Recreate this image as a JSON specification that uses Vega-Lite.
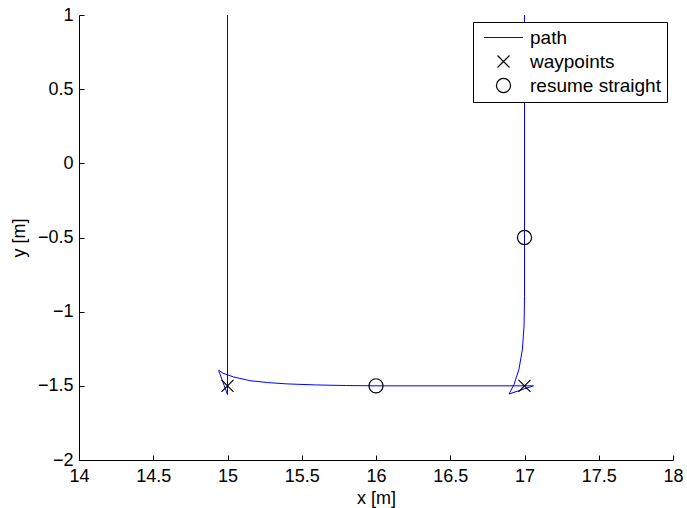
{
  "$schema": "https://vega.github.io/schema/vega-lite/v6.json",
  "autosize": {"type": "none"},
  "width": 594,
  "height": 445,
  "padding": {"left": 79, "top": 15, "right": 14, "bottom": 48},
  "background": "white",
  "config": {
    "view": {"stroke": null},
    "font": "Liberation Sans",
    "axis": {
      "domainColor": "black",
      "tickColor": "black",
      "labelColor": "black",
      "titleColor": "black",
      "labelFont": "Liberation Sans",
      "titleFont": "Liberation Sans",
      "labelFontSize": 18,
      "titleFontSize": 18,
      "titleFontWeight": "normal",
      "tickSize": -5,
      "grid": false,
      "domainWidth": 1,
      "tickWidth": 1
    },
    "legend": {
      "labelFont": "Liberation Sans",
      "labelFontSize": 19,
      "labelColor": "black"
    }
  },
  "datasets": {
    "path": [
      {"o": 1, "x": 15.0, "y": 1.0},
      {"o": 2, "x": 15.0, "y": -1.56},
      {"o": 3, "x": 14.94, "y": -1.395},
      {"o": 4, "x": 14.97, "y": -1.415},
      {"o": 5, "x": 15.04, "y": -1.44},
      {"o": 6, "x": 15.15, "y": -1.465},
      {"o": 7, "x": 15.27, "y": -1.478},
      {"o": 8, "x": 15.4, "y": -1.487},
      {"o": 9, "x": 15.6, "y": -1.494},
      {"o": 10, "x": 15.8, "y": -1.498},
      {"o": 11, "x": 16.0, "y": -1.5},
      {"o": 12, "x": 16.9, "y": -1.5},
      {"o": 13, "x": 17.06, "y": -1.5},
      {"o": 14, "x": 16.896, "y": -1.555},
      {"o": 15, "x": 16.93, "y": -1.49},
      {"o": 16, "x": 16.963, "y": -1.387},
      {"o": 17, "x": 16.986, "y": -1.253},
      {"o": 18, "x": 16.997, "y": -1.096},
      {"o": 19, "x": 17.0, "y": -0.9},
      {"o": 20, "x": 17.0, "y": 1.0}
    ],
    "markers": [
      {"series": "waypoints", "x": 15, "y": -1.5},
      {"series": "waypoints", "x": 17, "y": -1.5},
      {"series": "resume straight", "x": 16, "y": -1.5},
      {"series": "resume straight", "x": 17, "y": -0.5}
    ]
  },
  "layer": [
    {
      "data": {"name": "path"},
      "mark": {"type": "line", "color": "#0000ff", "strokeWidth": 1, "clip": true},
      "encoding": {
        "x": {
          "field": "x", "type": "quantitative",
          "scale": {"domain": [14, 18], "nice": false, "zero": false},
          "axis": {"title": "x [m]", "values": [14, 14.5, 15, 15.5, 16, 16.5, 17, 17.5, 18], "format": ".1~f", "labelPadding": 12, "titlePadding": 4, "labelFlush": false}
        },
        "y": {
          "field": "y", "type": "quantitative",
          "scale": {"domain": [-2, 1], "nice": false, "zero": false},
          "axis": {"title": "y [m]", "values": [-2, -1.5, -1, -0.5, 0, 0.5, 1], "format": ".1~f", "labelPadding": 11, "titlePadding": 9, "labelFlush": false}
        },
        "order": {"field": "o", "type": "quantitative"}
      }
    },
    {
      "data": {"name": "markers"},
      "mark": {"type": "point", "filled": false, "size": 200, "strokeWidth": 1.2, "opacity": 1},
      "encoding": {
        "x": {"field": "x", "type": "quantitative"},
        "y": {"field": "y", "type": "quantitative"},
        "color": {
          "field": "series", "type": "nominal",
          "scale": {"domain": ["path", "waypoints", "resume straight"], "range": ["#0000ff", "black", "black"]},
          "legend": {
            "title": null,
            "orient": "none",
            "legendX": 394,
            "legendY": 7,
            "strokeColor": "black",
            "fillColor": "white",
            "padding": 6,
            "rowPadding": 4,
            "symbolSize": 200,
            "symbolStrokeWidth": 1.2,
            "symbolOffset": 15,
            "labelOffset": 17,
            "symbolFillColor": "transparent"
          }
        },
        "shape": {
          "field": "series", "type": "nominal",
          "scale": {"domain": ["path", "waypoints", "resume straight"], "range": ["M-2.75,0L2.75,0", "M-0.85,-0.85L0.85,0.85M-0.85,0.85L0.85,-0.85", "circle"]}
        }
      }
    }
  ]
}
